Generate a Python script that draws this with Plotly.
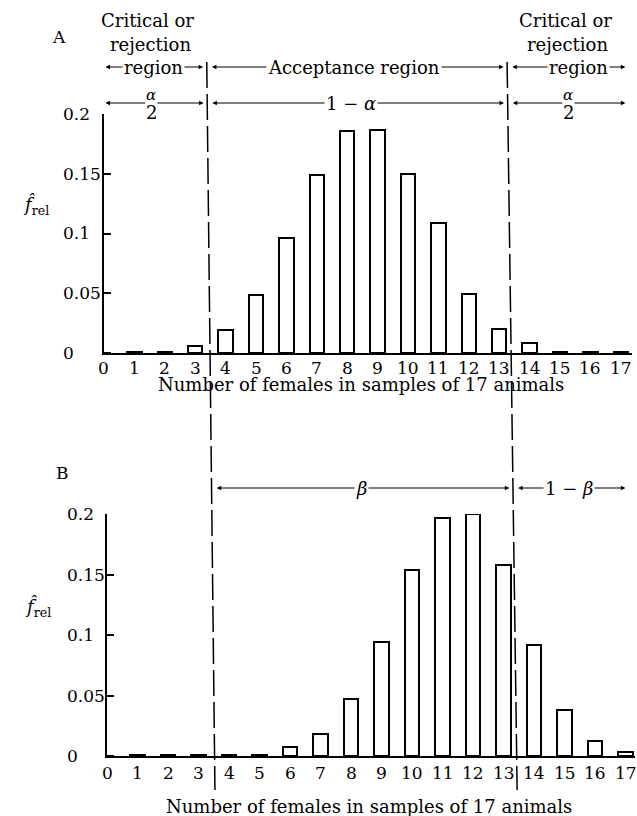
import plotly.graph_objects as go

# ---------------- data ----------------
females = list(range(18))
tick_labels = [str(k) for k in females]
freq_A = [0.0003, 0.0008, 0.001, 0.006, 0.019, 0.0486, 0.096, 0.149, 0.186, 0.187,
          0.150, 0.109, 0.049, 0.020, 0.008, 0.001, 0.0012, 0.0008]
freq_B = [0.0003, 0.0005, 0.0008, 0.001, 0.001, 0.001, 0.0074, 0.018, 0.047, 0.094,
          0.154, 0.197, 0.200, 0.158, 0.092, 0.038, 0.0124, 0.003]
y_ticks = [0, 0.05, 0.1, 0.15, 0.2]
y_tick_text = ["0", "0.05", "0.1", "0.15", "0.2"]
crit_lo = (3.38, 3.65)    # boundary line (top, bottom) on x scale
crit_hi = (13.26, 13.59)
x_end = 17.15
xtitle = "Number of females in samples of 17 animals"

W, H = 637, 816
FONT = "DejaVu Serif"
FS = 17
FT = 18


def px(x):
    return x / W


def py(y):
    return 1 - y / H


LINE_TOP, LINE_BOT = 62, 790


def bx(b, ypix):
    return b[0] + (b[1] - b[0]) * (ypix - LINE_TOP) / (LINE_BOT - LINE_TOP)


fig = go.Figure()
bar_style = dict(marker=dict(color="white", line=dict(color="black", width=2)),
                 width=0.47, showlegend=False, hoverinfo="skip")
fig.add_trace(go.Bar(x=females, y=freq_A, xaxis="x", yaxis="y", **bar_style))
fig.add_trace(go.Bar(x=females, y=freq_B, xaxis="x2", yaxis="y2", **bar_style))

xcommon = dict(showline=True, linecolor="black", linewidth=1.5, showgrid=False,
               zeroline=False, ticks="", tickvals=females, showticklabels=False,
               automargin=False, fixedrange=True)
ycommon = dict(showline=True, linecolor="black", linewidth=2, showgrid=False,
               zeroline=False, ticks="inside", ticklen=7, tickwidth=1.5,
               tickcolor="black", tickvals=y_ticks, showticklabels=False,
               automargin=False, range=[0, 0.2], fixedrange=True)

fig.update_layout(
    width=W, height=H, margin=dict(l=0, r=0, t=0, b=0, autoexpand=False),
    paper_bgcolor="white", plot_bgcolor="white",
    font=dict(family=FONT, size=FS, color="black"),
    bargap=0,
    xaxis=dict(domain=[px(104), px(632)], range=[0, 528 / 30.4], anchor="y", **xcommon),
    yaxis=dict(domain=[py(353), py(114)], anchor="x", **ycommon),
    xaxis2=dict(domain=[px(107), px(635)], range=[0, 528 / 30.5], anchor="y2", **xcommon),
    yaxis2=dict(domain=[py(756), py(514)], anchor="x2", **ycommon),
)

ann = []


def txt(cx, cy, text, size=FT, xanchor="center", yanchor="middle", **kw):
    d = dict(x=px(cx), y=py(cy), xref="paper", yref="paper", text=text,
             showarrow=False, xanchor=xanchor, yanchor=yanchor,
             font=dict(size=size))
    d.update(kw)
    return d


# x tick labels (placed on the axis scale, tight under the axis as in the original)
for k, t in zip(females, tick_labels):
    ann.append(dict(x=k, xref="x", y=py(368), yref="paper", text=t, showarrow=False,
                    xanchor="center", yanchor="middle", font=dict(size=FS)))
    ann.append(dict(x=k, xref="x2", y=py(773), yref="paper", text=t, showarrow=False,
                    xanchor="center", yanchor="middle", font=dict(size=FS)))

# y tick labels (left aligned as in the original)
for v, t in zip(y_ticks, y_tick_text):
    ann.append(dict(x=px(61), xref="paper", y=v, yref="y", text=t, showarrow=False,
                    xanchor="left", yanchor="middle", font=dict(size=FS)))
    ann.append(dict(x=px(65), xref="paper", y=v, yref="y2", text=t, showarrow=False,
                    xanchor="left", yanchor="middle", font=dict(size=FS)))

# y axis titles
fhat = "<i>f\u0302</i><sub>rel</sub>"
ann.append(txt(36, 205, fhat, size=18))
ann.append(txt(38, 607, fhat, size=18))

# panel letters
ann.append(txt(59, 37, "A", size=FS))
ann.append(txt(62, 473, "B", size=FS))

# x axis titles
ann.append(txt(361, 384, xtitle))
ann.append(txt(369, 806, xtitle))

# header text
for cx, t, yy in [(147, "Critical or", 20), (150, "rejection", 44),
                  (565, "Critical or", 20), (567, "rejection", 44)]:
    ann.append(txt(cx, yy, t))


def darrow(xa, xb, ypix):
    return dict(x=xb, ax=xa, xref="x", axref="x", y=py(ypix), ay=0,
                yref="paper", ayref="pixel", text="", showarrow=True,
                arrowhead=2, arrowside="end+start", arrowsize=0.9, arrowwidth=1,
                arrowcolor="black", standoff=0, startstandoff=0)


g = 0.12
# row 1 (regions)
r1 = 67
ann += [darrow(0, bx(crit_lo, r1) - g, r1),
        darrow(bx(crit_lo, r1) + g, bx(crit_hi, r1) - g, r1),
        darrow(bx(crit_hi, r1) + g, x_end, r1)]
# row 2 (probabilities)
r2 = 103
ann += [darrow(0, bx(crit_lo, r2) - g, r2),
        darrow(bx(crit_lo, r2) + g, bx(crit_hi, r2) - g, r2),
        darrow(bx(crit_hi, r2) + g, x_end, r2)]
# panel B row
r3 = 488
ann += [darrow(bx(crit_lo, r3) + g, bx(crit_hi, r3) - g, r3),
        darrow(bx(crit_hi, r3) + g, x_end, r3)]

ann += [txt(153, r1, "region", bgcolor="white", borderpad=1),
        txt(354, r1, "Acceptance region", bgcolor="white", borderpad=1),
        txt(578, r1, "region", bgcolor="white", borderpad=1),
        txt(351, r2, "1 \u2212 <i>\u03b1</i>", bgcolor="white", borderpad=1),
        txt(362, r3, "<i>\u03b2</i>", bgcolor="white", borderpad=1),
        txt(569, r3, "1 \u2212 <i>\u03b2</i>", bgcolor="white", borderpad=1)]
# alpha / 2 fractions
for cx in (151, 568):
    ann.append(txt(cx, r2 - 8, "<i>\u03b1</i>", size=15, bgcolor="white", borderpad=0))
    ann.append(txt(cx, r2 + 10, "2", size=FT, bgcolor="white", borderpad=0))

fig.update_layout(annotations=ann)

# dashed boundary lines
for b in (crit_lo, crit_hi):
    fig.add_shape(type="line", xref="x", yref="paper", x0=b[0], x1=b[1],
                  y0=py(LINE_TOP), y1=py(LINE_BOT),
                  line=dict(color="black", width=1.5, dash="26px,6px"))

fig.write_html(
    "out.html",
    config={"displayModeBar": False},
    post_script="document.body.style.margin='0';document.body.style.overflow='hidden';",
)
